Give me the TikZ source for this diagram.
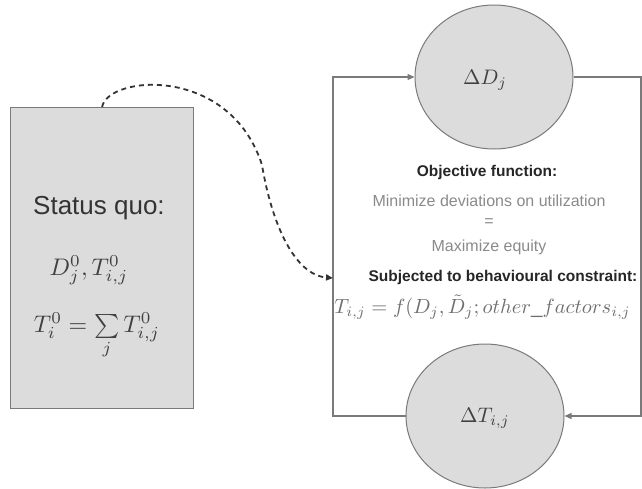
\documentclass[tikz,border=0pt]{standalone}
\usepackage{fontspec}
\setmainfont{Liberation Sans}
\usetikzlibrary{shapes.geometric,arrows.meta}
\definecolor{boxfill}{HTML}{DCDCDC}
\definecolor{edge}{HTML}{7A7A7A}
\definecolor{softtext}{HTML}{8A8A8A}
\tikzset{
  bubble/.style={ellipse, draw=edge, line width=1pt, fill=boxfill, minimum width=158pt, minimum height=144pt, inner sep=0pt},
  statusbox/.style={draw=edge, line width=1.2pt, fill=boxfill, minimum width=183pt, minimum height=301pt, anchor=north west, inner sep=0pt},
  loopline/.style={draw=edge, line width=1.1pt},
  tip/.style={-{Triangle[length=7pt,width=6pt]}},
  boldlabel/.style={font=\fontsize{15.5}{17}\selectfont\bfseries, text=black!85, inner sep=0pt},
  softlabel/.style={font=\fontsize{16}{18}\selectfont, text=softtext, inner sep=0pt},
}
\begin{document}
\begin{tikzpicture}[x=1pt,y=-1pt]
\useasboundingbox (0,0) rectangle (642,488);
% status quo box
\node[statusbox] (sq) at (10,107) {};
\node[font=\fontsize{26}{30}\selectfont, text=black!80, anchor=west, inner sep=0pt] (sqt) at (33,208) {Status quo:};
\node[text=black!75, inner sep=0pt, scale=2.4] (sqa) at (89,270) {$D_j^0, T_{i,j}^0$};
\node[text=black!75, inner sep=0pt, scale=2.4] (sqb) at (97,336) {$T_i^0 = \sum\limits_j T_{i,j}^0$};
% circles
\node[bubble] (dD) at (494,77) {};
\node[text=black!75, scale=2.1] (dDt) at (485,80) {$\Delta D_j$};
\node[bubble] (dT) at (485,416) {};
\node[text=black!75, scale=2.1] (dTt) at (485,418) {$\Delta T_{i,j}$};
% loop
\coordinate (lb) at (333,416);
\coordinate (lt) at (333,77);
\coordinate (rt) at (641,77);
\coordinate (rb) at (641,416);
\draw[loopline, tip] (dT.west) -- (lb) -- (lt) -- (dD.west);
\draw[loopline, tip] (dD.east) -- (rt) -- (rb) -- (dT.east);
% central text
\node[boldlabel] (obj) at (487,172) {Objective function:};
\node[softlabel] (min) at (489,201) {Minimize deviations on utilization};
\node[softlabel] (eq) at (489,223) {=};
\node[softlabel] (max) at (489,247) {Maximize equity};
\node[boldlabel] (sub) at (503,277) {Subjected to behavioural constraint:};
\node[text=softtext!80!black, scale=2.05, anchor=west, inner sep=0pt] (fml) at (334,307) {$T_{i,j} = f(D_j, \tilde{D}_j; other\_factors_{i,j}$};
% dashed link
\coordinate (entry) at (333,278);
\draw[line width=1.8pt, black!80, dash pattern=on 5pt off 4pt, tip] (sq.north) .. controls (108,75) and (230,65) .. (262,165) .. controls (272,225) and (295,275) .. (entry);
\end{tikzpicture}
\end{document}
